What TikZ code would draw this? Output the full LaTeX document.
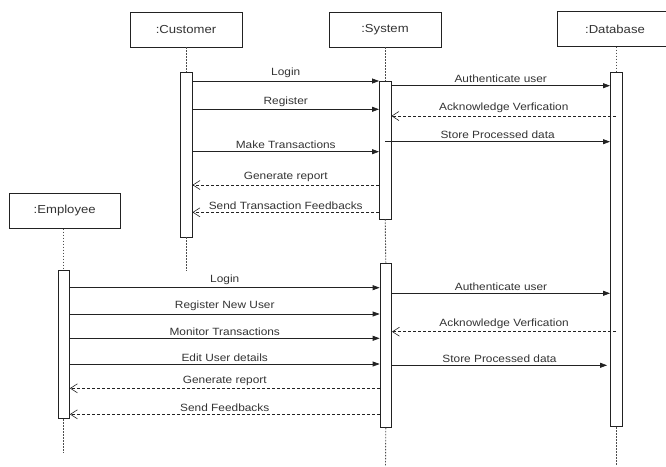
\documentclass[tikz,border=0pt]{standalone}
\usepackage{fontspec}
\setmainfont{Liberation Sans}[FakeStretch=1.13]
\usetikzlibrary{arrows.meta}
\definecolor{ink}{HTML}{222222}
\definecolor{txt}{HTML}{333333}
\tikzset{
  objbox/.style={draw=ink, line width=0.8pt, fill=white, minimum width=112pt,
    minimum height=35pt, inner sep=0pt, font=\fontsize{11.6}{13}\selectfont, text=txt},
  actbar/.style={draw=ink, line width=0.8pt, fill=white, minimum width=11.5pt, inner sep=0pt},
  lifeline/.style={draw=ink!80, line width=0.9pt, dash pattern=on 1.6pt off 1.4pt},
  callmsg/.style={draw=ink, line width=0.7pt, -{Triangle[length=7pt,width=5pt]}},
  retmsg/.style={draw=ink, line width=0.7pt, dash pattern=on 3pt off 2pt,
    -{Straight Barb[length=7pt,width=9pt,line width=0.6pt]}},
  lbl/.style={midway, above, inner sep=0pt, yshift=2.5pt,
    font=\fontsize{10.5}{12}\selectfont, text=txt}
}
\begin{document}
\begin{tikzpicture}[x=1pt, y=-1pt]
\useasboundingbox (0,0) rectangle (666,466);
\clip (0,0) rectangle (666,466);

% participants
\node[objbox] (cust) at (186,29.5) {:Customer};
\node[objbox] (sys)  at (385,29.5) {:System};
\node[objbox, minimum width=116pt, minimum height=34.5pt] (db) at (615,29) {:Database};
\node[objbox, minimum width=110.7pt] (emp) at (64.7,210.8) {:Employee};

% activation bars
\node[actbar, minimum height=165pt]   (cb1) at (186.3,154.5) {};
\node[actbar, minimum height=138pt]   (sb1) at (385.2,150) {};
\node[actbar, minimum height=354.7pt] (db1) at (616.2,249.3) {};
\node[actbar, minimum height=148pt]   (eb1) at (63.7,344.7) {};
\node[actbar, minimum height=164.3pt] (sb2) at (385.8,345.2) {};

% lifeline ends
\coordinate (custEnd) at (186.3,271);
\coordinate (sysEnd)  at (385.5,466);
\coordinate (dbEnd)   at (616.2,465);
\coordinate (empEnd)  at (63.7,453);

% lifelines
\draw[lifeline] (cust.south) -- (cust.south |- cb1.north);
\draw[lifeline] (cb1.south) -- (custEnd);
\draw[lifeline] (sys.south -| sb1.north) -- (sb1.north);
\draw[lifeline] (sb1.south) -- (sb2.north);
\draw[lifeline] (sb2.south) -- (sysEnd);
\draw[lifeline] (db1.north |- db.south) -- (db1.north);
\draw[lifeline] (db1.south) -- (dbEnd);
\draw[lifeline] (emp.south -| eb1.north) -- (eb1.north);
\draw[lifeline] (eb1.south) -- (empEnd);

% customer session
\draw[callmsg] (cb1.east |- 0,81)    -- (sb1.west |- 0,81)    node[lbl] {Login};
\draw[callmsg] (cb1.east |- 0,109.3) -- (sb1.west |- 0,109.3) node[lbl] {Register};
\draw[callmsg] (cb1.east |- 0,151.7) -- (sb1.west |- 0,151.7) node[lbl] {Make Transactions};
\draw[retmsg]  (sb1.west |- 0,185)   -- (cb1.east |- 0,185)   node[lbl] {Generate report};
\draw[retmsg]  (sb1.west |- 0,212.3) -- (cb1.east |- 0,212.3) node[lbl] {Send Transaction Feedbacks};

\draw[callmsg] (sb1.east |- 0,85.7)  -- (db1.west |- 0,85.7)  node[lbl] {Authenticate user};
\draw[retmsg]  (db1.center |- 0,116) -- (sb1.east |- 0,116)   node[lbl] {Acknowledge Verfication};
\draw[callmsg] (sb1.center |- 0,141.7) -- (db1.west |- 0,141.7) node[lbl] {Store Processed data};

% employee session
\draw[callmsg] (eb1.east |- 0,287.7) -- (sb2.west |- 0,287.7) node[lbl] {Login};
\draw[callmsg] (eb1.east |- 0,314)   -- (sb2.west |- 0,314)   node[lbl] {Register New User};
\draw[callmsg] (eb1.east |- 0,338.3) -- (sb2.west |- 0,338.3) node[lbl] {Monitor Transactions};
\draw[callmsg] (eb1.east |- 0,364)   -- (sb2.west |- 0,364)   node[lbl] {Edit User details};
\draw[retmsg]  (sb2.west |- 0,388.3) -- (eb1.east |- 0,388.3) node[lbl] {Generate report};
\draw[retmsg]  (sb2.west |- 0,414.3) -- (eb1.east |- 0,414.3) node[lbl] {Send Feedbacks};

\draw[callmsg] (sb2.east |- 0,293.3) -- (db1.west |- 0,293.3) node[lbl] {Authenticate user};
\draw[retmsg]  (db1.center |- 0,331.7) -- (sb2.east |- 0,331.7) node[lbl] {Acknowledge Verfication};
\draw[callmsg] (sb2.east |- 0,365.3) -- ([xshift=-3pt]db1.west |- 0,365.3) node[lbl] {Store Processed data};
\end{tikzpicture}
\end{document}
